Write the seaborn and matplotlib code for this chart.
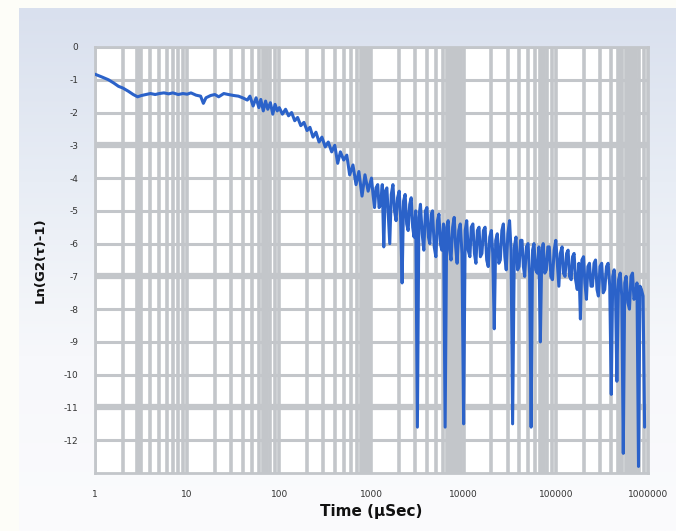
import numpy as np
import pandas as pd
import matplotlib
matplotlib.use("Agg")
import matplotlib.pyplot as plt
from matplotlib.ticker import LogLocator, FixedLocator, NullFormatter
import seaborn as sns

# time (uSec) and ln(G2(t)-1)
time_us = [1, 1.2, 1.4, 1.6, 1.8, 2.0, 2.3, 2.6, 2.9, 3.2, 3.6, 4.0, 4.5, 5, 5.6, 6.3,
           7, 8, 9, 10, 11, 12.5, 14, 15, 16, 18, 20, 22, 25, 28, 32, 36, 40, 45, 48,
           52, 56, 60, 63, 67, 71, 75, 80, 85, 90, 95,
           100, 108, 117, 126, 136, 147, 158, 171, 185, 200, 215, 232, 250, 270, 290,
           315, 340, 370, 400, 430, 460, 500, 540, 580, 630, 680, 730, 790, 850, 920,
           1000, 1040, 1080, 1120, 1170, 1210, 1260, 1310, 1360, 1410, 1470, 1520,
           1580, 1640, 1710, 1780, 1850, 1920, 2000, 2070, 2150, 2230, 2320, 2410,
           2500, 2600, 2700, 2800, 2900, 3020, 3150, 3270, 3400, 3550, 3700, 3850,
           4000, 4150, 4300, 4450, 4600, 4800, 5000, 5200, 5400, 5600, 5800, 6050,
           6300, 6550, 6800, 7050, 7300, 7600, 7900, 8200, 8500, 8850, 9200, 9600,
           10000, 10400, 10800, 11200, 11700, 12100, 12600, 13100, 13600, 14100,
           14700, 15200, 15800, 16400, 17100, 17800, 18500, 19200, 20000, 20700,
           21500, 22300, 23200, 24100, 25000, 26000, 27000, 28000, 29000, 30200,
           31500, 32700, 34000, 35500, 37000, 38500, 40000, 41500, 43000, 44500,
           46000, 48000, 50000, 52000, 54000, 56000, 58000, 60500, 63000, 65500,
           68000, 70500, 73000, 76000, 79000, 82000, 85000, 88500, 92000, 96000,
           100000, 104000, 108000, 112000, 117000, 121000, 126000, 131000, 136000,
           141000, 147000, 152000, 158000, 164000, 171000, 178000, 185000, 192000,
           200000, 207000, 215000, 223000, 232000, 241000, 250000, 260000, 270000,
           280000, 290000, 302000, 315000, 327000, 340000, 355000, 370000, 385000,
           400000, 415000, 430000, 445000, 460000, 480000, 500000, 520000, 540000,
           560000, 580000, 605000, 630000, 655000, 680000, 705000, 730000, 760000,
           790000, 820000, 850000, 885000, 920000]

ln_g2 = [-0.83, -0.92, -1.0, -1.1, -1.2, -1.25, -1.35, -1.45, -1.52, -1.48, -1.45, -1.42,
         -1.45, -1.42, -1.40, -1.43, -1.40, -1.45, -1.42, -1.44, -1.40, -1.47, -1.50,
         -1.72, -1.55, -1.48, -1.45, -1.52, -1.42, -1.45, -1.48, -1.50, -1.55, -1.62,
         -1.50, -1.80, -1.55, -1.85, -1.60, -1.95, -1.65, -1.90, -1.70, -2.05, -1.75,
         -1.95,
         -1.85, -2.05, -1.90, -2.10, -2.00, -2.25, -2.15, -2.40, -2.30, -2.55, -2.45,
         -2.75, -2.60, -2.90, -2.75, -3.05, -2.90, -3.20, -3.00, -3.55, -3.20, -3.45,
         -3.30, -3.90, -3.60, -4.20, -3.80, -4.55, -3.90, -4.40,
         -4.0, -4.5, -4.9, -4.3, -4.2, -4.9, -4.8, -4.2, -6.1, -4.4, -4.3, -5.1,
         -6.0, -4.5, -4.2, -5.0, -5.3, -4.6, -4.4, -5.2, -7.2, -4.7, -4.5, -5.4,
         -5.6, -4.8, -4.6, -5.5, -5.8, -5.0, -11.6, -5.2, -4.8, -5.7, -6.2, -5.0,
         -4.9, -5.8, -6.0, -5.1, -5.0, -6.1, -6.4, -5.3, -5.1, -6.0, -6.2, -5.4,
         -11.6, -5.5, -5.3, -6.2, -6.5, -5.5, -5.2, -6.1, -6.6, -5.6, -5.4, -6.3,
         -11.5, -5.6, -5.3, -6.2, -6.4, -5.5, -5.4, -6.3, -6.6, -5.6,
         -5.5, -6.4, -6.3, -5.6, -5.5, -6.5, -6.7, -5.8, -5.6, -6.3,
         -8.6, -5.9, -5.7, -6.6, -6.5, -5.6, -5.4, -6.4, -6.8, -5.7,
         -5.3, -6.2, -11.5, -6.1, -5.8, -6.8, -6.7, -5.9, -5.9, -6.7,
         -7.0, -6.1, -6.0, -6.9, -11.6, -6.2, -6.0, -6.8, -6.9, -6.1,
         -9.0, -6.3, -6.0, -6.9, -6.8, -6.1, -6.1, -7.0, -7.1, -6.2,
         -5.9, -6.6, -7.3, -6.3, -6.1, -6.9, -7.0, -6.3, -6.2,
         -7.0, -7.1, -6.4, -6.3, -7.1, -7.4, -6.6, -8.3, -6.5,
         -6.4, -7.2, -7.7, -6.7, -6.6, -7.3, -7.3, -6.6, -6.5,
         -7.4, -7.6, -6.7, -6.6, -7.5, -7.4, -6.7, -6.6, -7.3,
         -10.6, -7.0, -6.8, -7.5, -10.2, -7.1, -6.9, -7.6, -12.4,
         -7.2, -7.0, -7.8, -8.0, -7.0, -6.9, -7.7, -7.6, -7.2,
         -12.8, -7.3, -7.4, -7.6, -11.6]

y_ticks = list(range(0, -13, -1))
x_ticks = [1, 10, 100, 1000, 10000, 100000, 1000000]
x_tick_labels = ["1", "10", "100", "1000", "10000", "100000", "1000000"]

df = pd.DataFrame({"t": time_us, "g": ln_g2})

sns.set_theme(style="white")
plt.rcParams['font.family'] = ['DejaVu Sans']

fig = plt.figure(figsize=(6.76, 5.31), dpi=100)
fig.patch.set_facecolor("#fdfdf8")

# gradient panel behind the chart
bg = fig.add_axes([0.028, 0, 0.972, 0.985], zorder=-5)
grad = np.linspace(0, 1, 256).reshape(-1, 1)
cmap = matplotlib.colors.LinearSegmentedColormap.from_list(
    "bgc", ["#d9e0ee", "#e8edf5", "#f7f8fb", "#fbfbfd"])
bg.imshow(grad, aspect="auto", cmap=cmap, extent=[0, 1, 0, 1], origin="upper")
bg.axis("off")

ax = fig.add_axes([0.1405, 0.1092, 0.818, 0.8023])
ax.set_facecolor("white")
ax.set_xscale("log")
ax.set_xlim(1, 1000000)
ax.set_ylim(-13, 0)

grid_c = "#c3c6ca"
ax.xaxis.set_major_locator(FixedLocator(x_ticks))
ax.xaxis.set_minor_locator(LogLocator(base=10, subs=np.arange(2, 10), numticks=20))
ax.xaxis.set_minor_formatter(NullFormatter())
ax.set_xticklabels(x_tick_labels)
ax.set_yticks(y_ticks)
ax.set_yticklabels([str(v) for v in y_ticks])

ax.grid(which="both", axis="x", color=grid_c, lw=2.6, zorder=0)
ax.grid(which="major", axis="y", color=grid_c, lw=2.2, zorder=0)
# heavier looking grid lines (resampling look of the original)
for v in [3, 70, 800, 900, 7000, 8000, 9000, 70000, 500000, 600000, 700000]:
    ax.axvline(v, color=grid_c, lw=5.5, zorder=0)
for v in [-3, -7, -11]:
    ax.axhline(v, color=grid_c, lw=4.5, zorder=0)
ax.set_axisbelow(True)

ax.tick_params(axis="x", which="both", length=9, width=2.6, color=grid_c,
               direction="out", labelsize=6.5, labelcolor="#333333", pad=3)
ax.tick_params(axis="y", which="major", length=9, width=2.2, color=grid_c,
               direction="out", labelsize=6.5, labelcolor="#333333", pad=3)
for s in ax.spines.values():
    s.set_color(grid_c)
    s.set_linewidth(2.0)

sns.lineplot(data=df, x="t", y="g", ax=ax, color="#2b62c9", lw=2.2,
             estimator=None, sort=False, zorder=3)

ax.set_xlabel("Time (\u00b5Sec)", fontsize=11, fontweight="bold", color="#111111",
              labelpad=4)
ax.set_ylabel("Ln(G2(\u03c4)-1)", fontsize=9.5, fontweight="bold", color="#111111",
              labelpad=12)

fig.savefig("out.png", dpi=100)
